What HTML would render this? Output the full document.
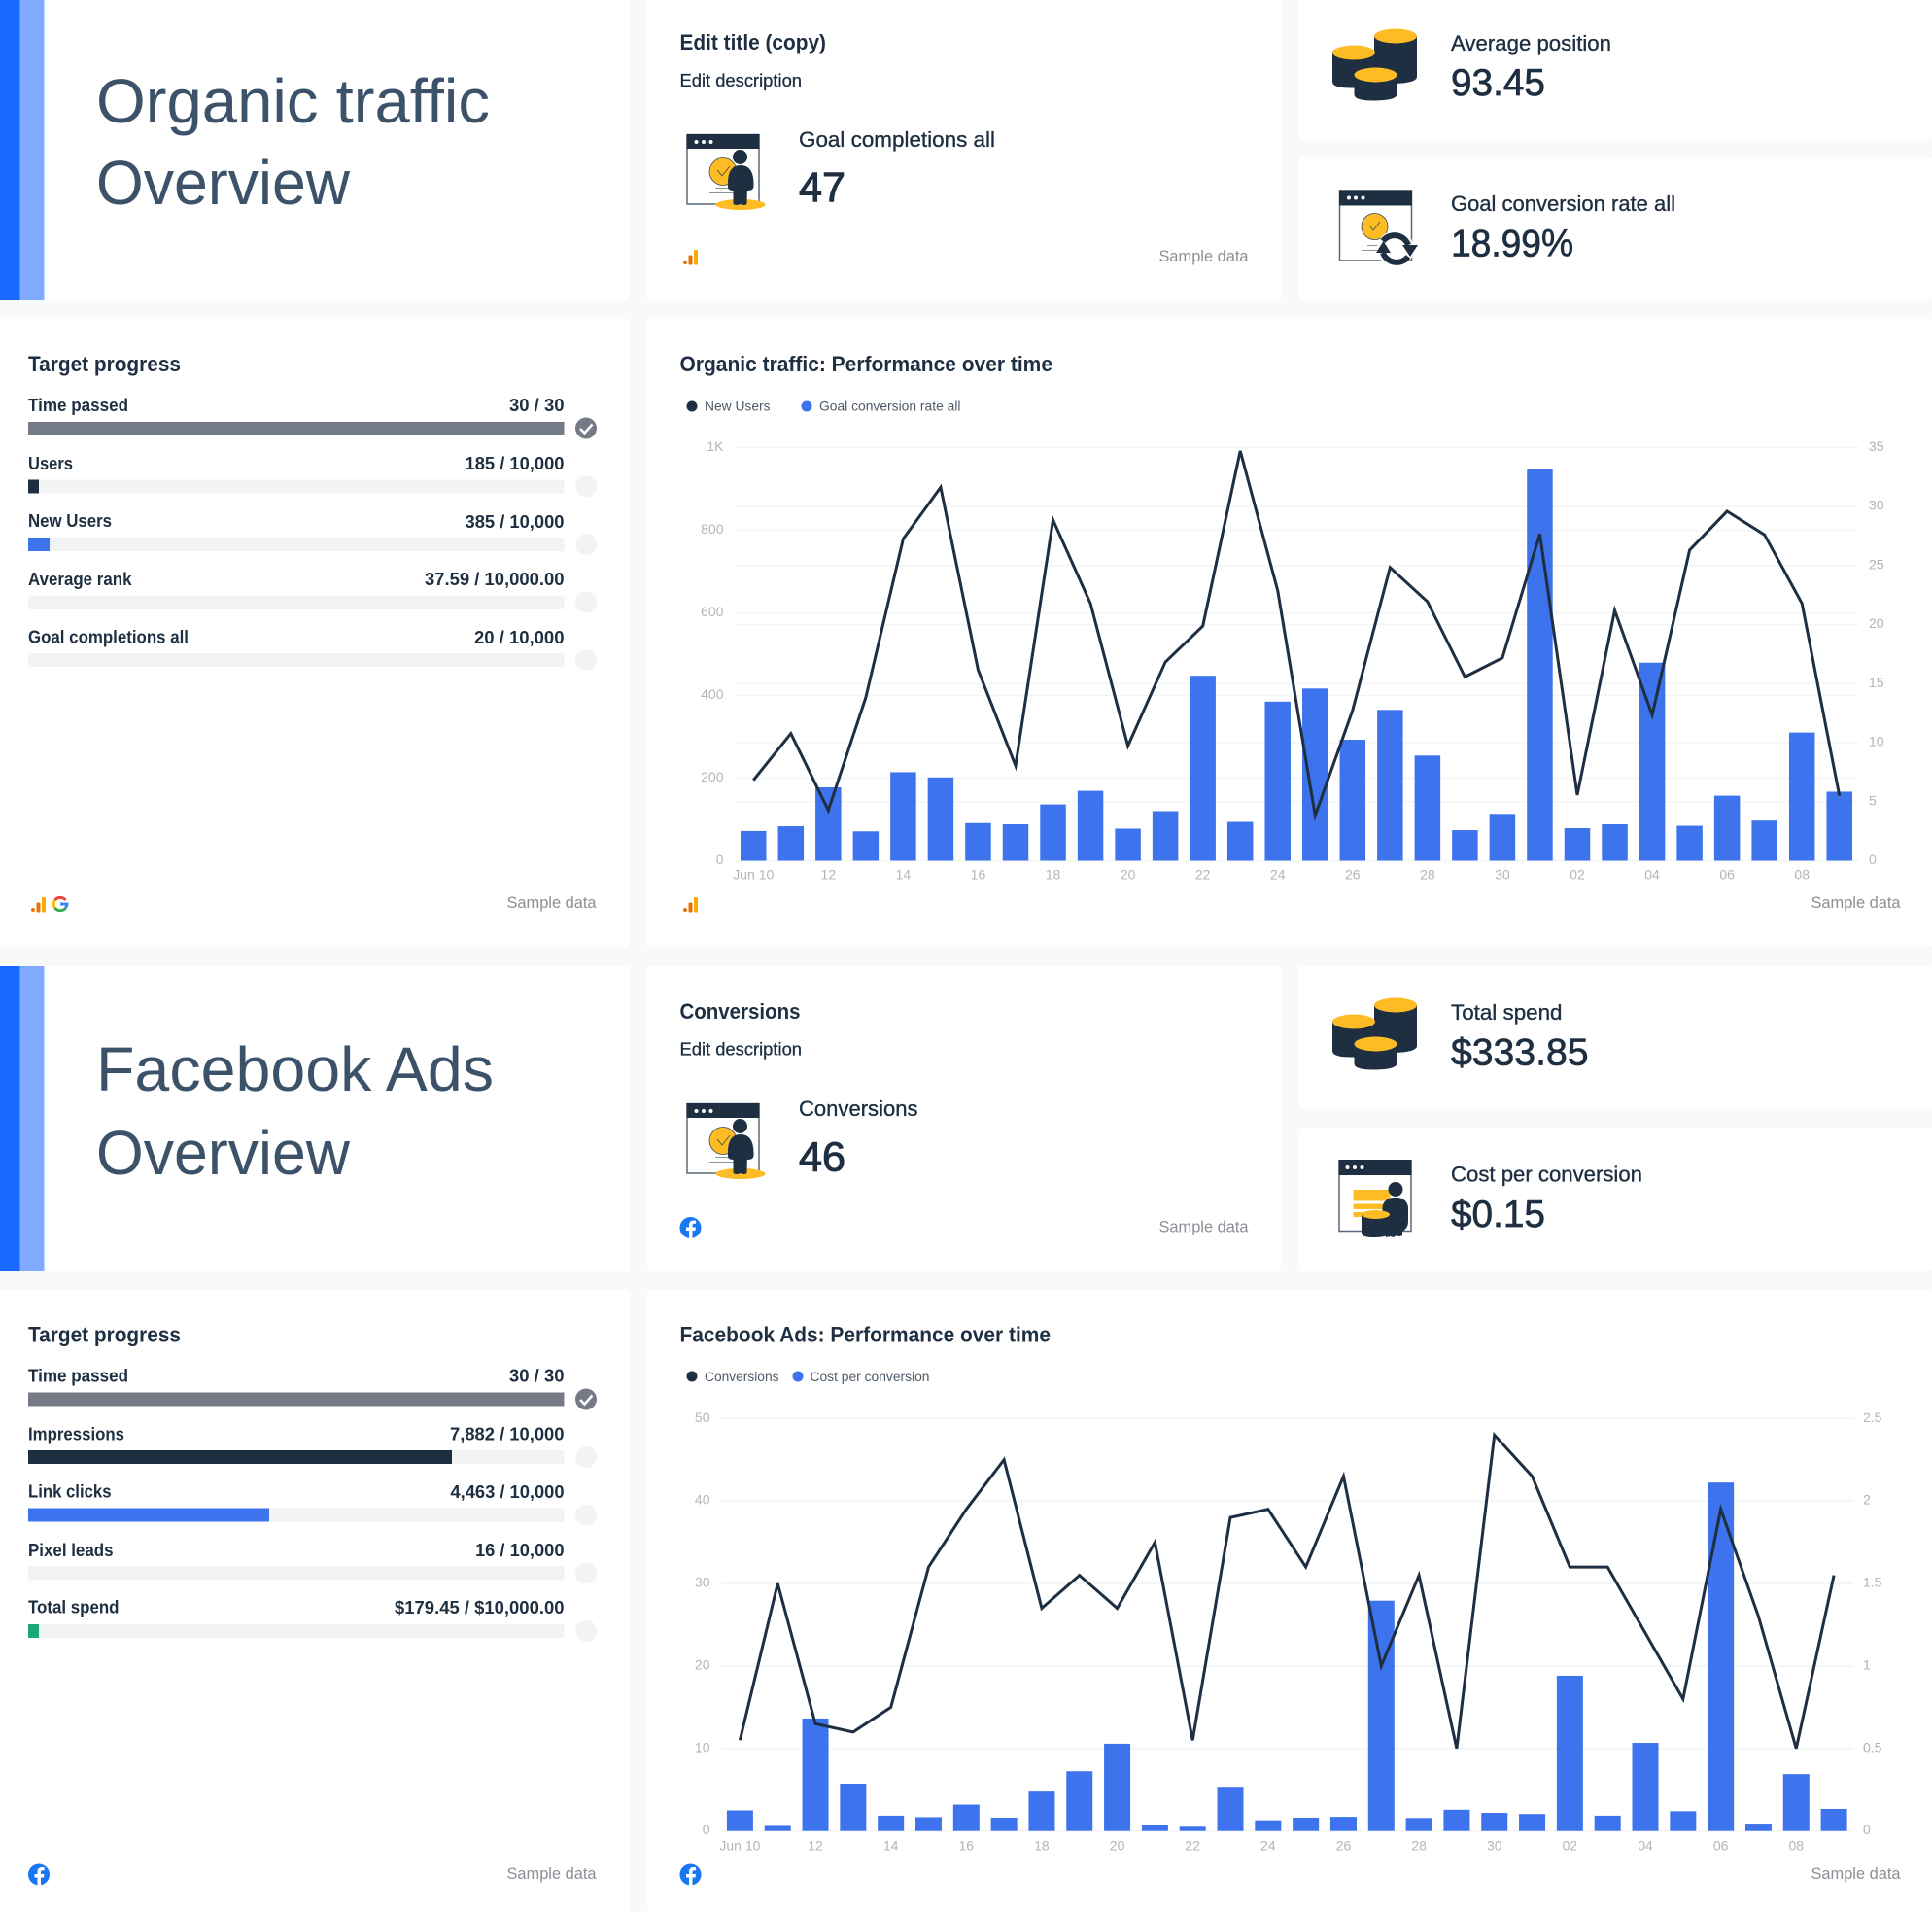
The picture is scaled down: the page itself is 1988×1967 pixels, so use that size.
<!DOCTYPE html>
<html lang="en">
<head>
<meta charset="utf-8">
<title>Organic traffic and Facebook Ads report</title>
<style>
html,body{margin:0;padding:0;background:#f8fafa;}
svg{display:block;}
text{font-family:"Liberation Sans",sans-serif;fill:#1e2f42;}
.hero{font-size:64px;fill:#3c5269;}
.h{font-size:22px;font-weight:700;}
.sub{font-size:18px;stroke:#1e2f42;stroke-width:.3px;}
.kl{font-size:22px;stroke:#1e2f42;stroke-width:.35px;}
.kv{font-size:39px;stroke:#1e2f42;stroke-width:.7px;}
.kv2{font-size:43px;stroke:#1e2f42;stroke-width:1px;}
.pl{font-size:18px;font-weight:700;}
.src{font-size:17px;fill:#8b8f95;}
.leg{font-size:14px;fill:#4d5a68;}
.tick{font-size:14px;fill:#b1b4b8;}
.card{fill:#fff;}
.track{fill:#f2f3f5;}
</style>
</head>
<body>
<svg xmlns="http://www.w3.org/2000/svg" width="1988" height="1967" viewBox="0 0 1988 1967">
<defs>
  <g id="ga-icon">
    <circle cx="705" cy="270" r="2" fill="#e8710a"/>
    <rect x="708.500" y="262.500" width="4" height="10" rx="1" fill="#e8710a"/>
    <rect x="714" y="257" width="4" height="15.500" rx="1" fill="#f9ab00"/>
  </g>
  <g id="fb-icon">
    <circle cx="710.500" cy="1263" r="11" fill="#1877f2"/>
    <path d="M712.500 1274.500v-8.500h3l.5-3.500h-3.500v-2c0-1 .5-1.800 1.900-1.800h1.700v-3c-.8-.1-1.600-.2-2.500-.2-2.800 0-4.600 1.700-4.600 4.700v2.300h-3v3.500h3v8.500z" fill="#fff"/>
  </g>
  <g id="coins-icon">
    <path d="M1414 37h44v42q0 6-22 7t-22-7z" fill="#1e2f42"/>
    <ellipse cx="1436" cy="37" rx="22" ry="7.500" fill="#fdbc24"/>
    <path d="M1371 54h44v30q0 6-22 6.500t-22-6.500z" fill="#1e2f42"/>
    <ellipse cx="1393" cy="54" rx="22" ry="7.500" fill="#fdbc24"/>
    <path d="M1393.500 77h44v20q0 6-22 6.500t-22-6.500z" fill="#1e2f42"/>
    <ellipse cx="1415.500" cy="77" rx="22" ry="7.500" fill="#fdbc24"/>
  </g>
  <g id="window-person-icon">
    <rect x="707" y="138.500" width="74" height="71.500" fill="#fff" stroke="#5b6879" stroke-width="1.500"/>
    <rect x="706.500" y="138" width="75" height="15" fill="#1e2f42"/>
    <circle cx="716.500" cy="146" r="2" fill="#fff"/><circle cx="724" cy="146" r="2" fill="#fff"/><circle cx="731.500" cy="146" r="2" fill="#fff"/>
    <circle cx="744" cy="176.500" r="14" fill="#fdbc24" stroke="#3a4656" stroke-width=".8"/>
    <path d="M738 175l5 6 8-10" fill="none" stroke="#5b5a40" stroke-width="1"/>
    <path d="M736 193.500h16M730 198.500h26" stroke="#8a94a1" stroke-width="1"/>
    <ellipse cx="762" cy="210.500" rx="25.500" ry="5.500" fill="#fdbc24"/>
    <circle cx="761.500" cy="161.500" r="7.500" fill="#1e2f42"/>
    <path d="M749 188q0-18 13-18t13.500 18v4q-.5 4-6 4h-15q-5.500 0-5.500-4z" fill="#1e2f42"/>
    <path d="M754.500 190h14.500l-.5 20q-3 2-6.500 0q-4 2-7.500 0z" fill="#1e2f42"/>
  </g>
</defs>

<!-- ============ ROW 1 ============ -->
<g>
  <rect class="card" x="0" y="0" width="647" height="309"/>
  <rect x="0" y="0" width="20.500" height="309" fill="#1769ff"/>
  <rect x="20.500" y="0" width="25" height="309" fill="#80aaff"/>
  <text class="hero" x="99" y="126" textLength="405" lengthAdjust="spacingAndGlyphs">Organic traffic</text>
  <text class="hero" x="99" y="210" textLength="261" lengthAdjust="spacingAndGlyphs">Overview</text>
</g>

<g>
  <rect class="card" x="666" y="-6" width="652" height="315" rx="3"/>
  <text class="h" x="699.500" y="51" textLength="150.500" lengthAdjust="spacingAndGlyphs">Edit title (copy)</text>
  <text class="sub" x="699.500" y="89" textLength="125.500" lengthAdjust="spacingAndGlyphs">Edit description</text>
  <use href="#window-person-icon"/>
  <text class="kl" x="822" y="151" textLength="202" lengthAdjust="spacingAndGlyphs">Goal completions all</text>
  <text class="kv2" x="822" y="207" textLength="48" lengthAdjust="spacingAndGlyphs">47</text>
  <use href="#ga-icon"/>
  <text class="src" x="1192.500" y="269" textLength="92" lengthAdjust="spacingAndGlyphs">Sample data</text>
</g>

<g>
  <rect class="card" x="1337" y="-6" width="651" height="150" rx="3"/>
  <use href="#coins-icon"/>
  <text class="kl" x="1493" y="52" textLength="165" lengthAdjust="spacingAndGlyphs">Average position</text>
  <text class="kv" x="1493" y="98" textLength="97" lengthAdjust="spacingAndGlyphs">93.45</text>
</g>

<g>
  <rect class="card" x="1337" y="162" width="651" height="147" rx="3"/>
  <g>
    <rect x="1378.500" y="196" width="74" height="72" fill="#fff" stroke="#5b6879" stroke-width="1.500"/>
    <rect x="1378" y="195.500" width="75" height="16" fill="#1e2f42"/>
    <circle cx="1388" cy="203.500" r="2" fill="#fff"/><circle cx="1395" cy="203.500" r="2" fill="#fff"/><circle cx="1402.500" cy="203.500" r="2" fill="#fff"/>
    <circle cx="1414.500" cy="233" r="13.500" fill="#fdbc24" stroke="#3a4656" stroke-width=".8"/>
    <path d="M1409 232l4 5 7-9" fill="none" stroke="#5b5a40" stroke-width="1"/>
    <path d="M1407 252.500h16M1401 257.500h26" stroke="#8a94a1" stroke-width="1"/>
    <circle cx="1436" cy="256" r="19" fill="#fff" opacity=".9"/>
    <path d="M1423 248a15 15 0 0 1 26 4" fill="none" stroke="#1e2f42" stroke-width="6"/>
    <path d="M1449 264a15 15 0 0 1-26-4" fill="none" stroke="#1e2f42" stroke-width="6"/>
    <path d="M1443 252h16l-8 12z" fill="#1e2f42"/>
    <path d="M1416 260h15l-7.500-12z" fill="#1e2f42"/>
  </g>
  <text class="kl" x="1493" y="217" textLength="231" lengthAdjust="spacingAndGlyphs">Goal conversion rate all</text>
  <text class="kv" x="1493" y="263.500" textLength="126" lengthAdjust="spacingAndGlyphs">18.99%</text>
</g>

<!-- ============ ROW 2 ============ -->
<g>
  <rect class="card" x="0" y="328" width="647" height="646"/>
  <text class="h" x="29" y="382" textLength="157" lengthAdjust="spacingAndGlyphs">Target progress</text>

  <text class="pl" x="29" y="423" textLength="103" lengthAdjust="spacingAndGlyphs">Time passed</text>
  <text class="pl" x="524" y="423" textLength="56.500" lengthAdjust="spacingAndGlyphs">30 / 30</text>
  <rect x="29" y="434" width="551.500" height="14" fill="#747b86"/>
  <g><circle cx="603" cy="440.500" r="11" fill="#747b86"/><path d="M597 441l4.500 4.500 8-9" fill="none" stroke="#fff" stroke-width="2.500"/></g>

  <text class="pl" x="29" y="483" textLength="46" lengthAdjust="spacingAndGlyphs">Users</text>
  <text class="pl" x="478.500" y="483" textLength="102" lengthAdjust="spacingAndGlyphs">185 / 10,000</text>
  <rect class="track" x="29" y="493.500" width="551.500" height="14"/>
  <rect x="29" y="493.500" width="11" height="14" fill="#1e2f42"/>
  <circle cx="603" cy="500.500" r="11" fill="#f2f3f5"/>

  <text class="pl" x="29" y="542" textLength="86" lengthAdjust="spacingAndGlyphs">New Users</text>
  <text class="pl" x="478.500" y="543" textLength="102" lengthAdjust="spacingAndGlyphs">385 / 10,000</text>
  <rect class="track" x="29" y="553" width="551.500" height="14"/>
  <rect x="29" y="553" width="22" height="14" fill="#3d73ec"/>
  <circle cx="603" cy="560" r="11" fill="#f2f3f5"/>

  <text class="pl" x="29" y="602" textLength="106.500" lengthAdjust="spacingAndGlyphs">Average rank</text>
  <text class="pl" x="437" y="602" textLength="143.500" lengthAdjust="spacingAndGlyphs">37.59 / 10,000.00</text>
  <rect class="track" x="29" y="613" width="551.500" height="14"/>
  <circle cx="603" cy="619.500" r="11" fill="#f2f3f5"/>

  <text class="pl" x="29" y="661.500" textLength="165" lengthAdjust="spacingAndGlyphs">Goal completions all</text>
  <text class="pl" x="488" y="662" textLength="92.500" lengthAdjust="spacingAndGlyphs">20 / 10,000</text>
  <rect class="track" x="29" y="672" width="551.500" height="14"/>
  <circle cx="603" cy="679" r="11" fill="#f2f3f5"/>

  <use href="#ga-icon" transform="translate(-671 666)"/>
  <g fill="none" stroke-width="3">
    <path d="M67.500 926a7 7 0 0 0-11 0" stroke="#ea4335"/>
    <path d="M56.500 926a7 7 0 0 0 0 8" stroke="#fbbc05"/>
    <path d="M56.500 934a7 7 0 0 0 11 0" stroke="#34a853"/>
    <path d="M67.500 934a7 7 0 0 0 1.500-4h-7" stroke="#4285f4"/>
  </g>
  <text class="src" x="521.500" y="934" textLength="92" lengthAdjust="spacingAndGlyphs">Sample data</text>
</g>

<g>
  <rect class="card" x="666" y="328" width="1322" height="646" rx="3"/>
  <text class="h" x="699.500" y="382" textLength="383.500" lengthAdjust="spacingAndGlyphs">Organic traffic: Performance over time</text>
  <g>
    <circle cx="712" cy="418" r="5.500" fill="#1e2f42"/>
    <text class="leg" x="725" y="422.500" textLength="67.500" lengthAdjust="spacingAndGlyphs">New Users</text>
    <circle cx="830" cy="418" r="5.500" fill="#3d73ec"/>
    <text class="leg" x="843" y="422.500" textLength="145.500" lengthAdjust="spacingAndGlyphs">Goal conversion rate all</text>
  </g>
  <g id="organic-chart"></g>
  <use href="#ga-icon" transform="translate(0 666)"/>
  <text class="src" x="1863.500" y="934" textLength="92" lengthAdjust="spacingAndGlyphs">Sample data</text>
</g>

<!-- ============ ROW 3 ============ -->
<g>
  <rect class="card" x="0" y="994" width="647" height="314"/>
  <rect x="0" y="994" width="20.500" height="314" fill="#1769ff"/>
  <rect x="20.500" y="994" width="25" height="314" fill="#80aaff"/>
  <text class="hero" x="99" y="1122" textLength="409" lengthAdjust="spacingAndGlyphs">Facebook Ads</text>
  <text class="hero" x="99" y="1208" textLength="261" lengthAdjust="spacingAndGlyphs">Overview</text>
</g>

<g>
  <rect class="card" x="666" y="994" width="652" height="314" rx="3"/>
  <text class="h" x="699.500" y="1048" textLength="124" lengthAdjust="spacingAndGlyphs">Conversions</text>
  <text class="sub" x="699.500" y="1085.500" textLength="125.500" lengthAdjust="spacingAndGlyphs">Edit description</text>
  <use href="#window-person-icon" transform="translate(0 997)"/>
  <text class="kl" x="822" y="1148" textLength="122.500" lengthAdjust="spacingAndGlyphs">Conversions</text>
  <text class="kv2" x="822" y="1204.500" textLength="48" lengthAdjust="spacingAndGlyphs">46</text>
  <use href="#fb-icon"/>
  <text class="src" x="1192.500" y="1267.500" textLength="92" lengthAdjust="spacingAndGlyphs">Sample data</text>
</g>

<g>
  <rect class="card" x="1337" y="994" width="651" height="147" rx="3"/>
  <use href="#coins-icon" transform="translate(0 997)"/>
  <text class="kl" x="1493" y="1049" textLength="114.500" lengthAdjust="spacingAndGlyphs">Total spend</text>
  <text class="kv" x="1493" y="1095.500" textLength="141.500" lengthAdjust="spacingAndGlyphs">$333.85</text>
</g>

<g>
  <rect class="card" x="1337" y="1160" width="651" height="148" rx="3"/>
  <g>
    <rect x="1378" y="1194" width="74" height="72.500" fill="#fff" stroke="#5b6879" stroke-width="1.500"/>
    <rect x="1377.500" y="1193" width="75" height="16" fill="#1e2f42"/>
    <circle cx="1386.500" cy="1201" r="2" fill="#fff"/><circle cx="1394" cy="1201" r="2" fill="#fff"/><circle cx="1401.500" cy="1201" r="2" fill="#fff"/>
    <rect x="1392.500" y="1224" width="38" height="11.500" fill="#fdbc24"/>
    <rect x="1392.500" y="1238.500" width="38" height="5.500" fill="#fdbc24"/>
    <rect x="1392.500" y="1247" width="30" height="5" fill="#fdbc24"/>
    <circle cx="1436" cy="1223.500" r="7.500" fill="#1e2f42"/>
    <rect x="1422.500" y="1232" width="26.500" height="36" rx="11" fill="#1e2f42"/>
    <path d="M1426 1255h17v16q-3 2-6 0q-3 3-6 1l-5 1z" fill="#1e2f42"/>
    <path d="M1401 1249.500h28.500v19q0 4-14 4.500t-14.500-4.500z" fill="#1e2f42"/>
    <ellipse cx="1415.500" cy="1249.500" rx="14.500" ry="4.500" fill="#fdbc24"/>
  </g>
  <text class="kl" x="1493" y="1215.500" textLength="197" lengthAdjust="spacingAndGlyphs">Cost per conversion</text>
  <text class="kv" x="1493" y="1262" textLength="97" lengthAdjust="spacingAndGlyphs">$0.15</text>
</g>

<!-- ============ ROW 4 ============ -->
<g>
  <rect class="card" x="0" y="1327" width="647" height="640"/>
  <text class="h" x="29" y="1380.500" textLength="157" lengthAdjust="spacingAndGlyphs">Target progress</text>

  <text class="pl" x="29" y="1421.500" textLength="103" lengthAdjust="spacingAndGlyphs">Time passed</text>
  <text class="pl" x="524" y="1421.500" textLength="56.500" lengthAdjust="spacingAndGlyphs">30 / 30</text>
  <rect x="29" y="1432.500" width="551.500" height="14" fill="#747b86"/>
  <g><circle cx="603" cy="1439.500" r="11" fill="#747b86"/><path d="M597 1440l4.500 4.500 8-9" fill="none" stroke="#fff" stroke-width="2.500"/></g>

  <text class="pl" x="29" y="1481.500" textLength="99" lengthAdjust="spacingAndGlyphs">Impressions</text>
  <text class="pl" x="463" y="1481.500" textLength="117.500" lengthAdjust="spacingAndGlyphs">7,882 / 10,000</text>
  <rect class="track" x="29" y="1492" width="551.500" height="14"/>
  <rect x="29" y="1492" width="436" height="14" fill="#1e2f42"/>
  <circle cx="603" cy="1499" r="11" fill="#f2f3f5"/>

  <text class="pl" x="29" y="1540.500" textLength="85.500" lengthAdjust="spacingAndGlyphs">Link clicks</text>
  <text class="pl" x="463.500" y="1541" textLength="117" lengthAdjust="spacingAndGlyphs">4,463 / 10,000</text>
  <rect class="track" x="29" y="1551.500" width="551.500" height="14"/>
  <rect x="29" y="1551.500" width="248" height="14" fill="#3d73ec"/>
  <circle cx="603" cy="1558.500" r="11" fill="#f2f3f5"/>

  <text class="pl" x="29" y="1601" textLength="87.500" lengthAdjust="spacingAndGlyphs">Pixel leads</text>
  <text class="pl" x="489" y="1601" textLength="91.500" lengthAdjust="spacingAndGlyphs">16 / 10,000</text>
  <rect class="track" x="29" y="1611.500" width="551.500" height="14"/>
  <circle cx="603" cy="1618.500" r="11" fill="#f2f3f5"/>

  <text class="pl" x="29" y="1659.500" textLength="93.500" lengthAdjust="spacingAndGlyphs">Total spend</text>
  <text class="pl" x="406" y="1660" textLength="174.500" lengthAdjust="spacingAndGlyphs">$179.45 / $10,000.00</text>
  <rect class="track" x="29" y="1671" width="551.500" height="14"/>
  <rect x="29" y="1671" width="11" height="14" fill="#1aa774"/>
  <circle cx="603" cy="1678" r="11" fill="#f2f3f5"/>

  <use href="#fb-icon" transform="translate(-670.500 665.500)"/>
  <text class="src" x="521.500" y="1933" textLength="92" lengthAdjust="spacingAndGlyphs">Sample data</text>
</g>

<g>
  <rect class="card" x="666" y="1327" width="1322" height="640" rx="3"/>
  <text class="h" x="699.500" y="1380.500" textLength="381.500" lengthAdjust="spacingAndGlyphs">Facebook Ads: Performance over time</text>
  <g>
    <circle cx="712" cy="1416" r="5.500" fill="#1e2f42"/>
    <text class="leg" x="725" y="1421" textLength="76.500" lengthAdjust="spacingAndGlyphs">Conversions</text>
    <circle cx="821" cy="1416" r="5.500" fill="#3d73ec"/>
    <text class="leg" x="833.500" y="1421" textLength="123" lengthAdjust="spacingAndGlyphs">Cost per conversion</text>
  </g>
  <g id="facebook-chart"></g>
  <use href="#fb-icon" transform="translate(0 665.500)"/>
  <text class="src" x="1863.500" y="1933" textLength="92" lengthAdjust="spacingAndGlyphs">Sample data</text>
</g>
</svg>

<script>
// ---- Organic traffic chart data ----
var organicDates = ['Jun 10','11','12','13','14','15','16','17','18','19','20','21','22','23','24','25','26','27','28','29','30','01','02','03','04','05','06','07','08','09'];
var organicLine = [195,308,122,395,779,904,462,230,825,623,278,481,568,992,654,109,364,710,627,445,491,791,159,606,353,752,846,789,623,157];
var organicBars = [2.52,2.92,6.22,2.49,7.5,7.06,3.19,3.09,4.77,5.92,2.72,4.2,15.67,3.29,13.48,14.59,10.25,12.78,8.91,2.59,3.97,33.15,2.76,3.09,16.78,2.96,5.51,3.4,10.86,5.85];
var organicLeftTicks = [0,200,400,600,800,1000];
var organicLeftTickLabels = ['0','200','400','600','800','1K'];
var organicRightTicks = [0,5,10,15,20,25,30,35];
var organicRightTickLabels = ['0','5','10','15','20','25','30','35'];

// ---- Facebook Ads chart data ----
var facebookDates = ['Jun 10','11','12','13','14','15','16','17','18','19','20','21','22','23','24','25','26','27','28','29','30','01','02','03','04','05','06','07','08','09'];
var facebookLine = [11,30,13,12,15,32,39,45,27,31,27,35,11,38,39,32,43,20,31,10,48,43,32,32,24,16,39,26,10,31];
var facebookBars = [0.125,0.031,0.682,0.287,0.093,0.084,0.16,0.081,0.239,0.362,0.529,0.034,0.026,0.268,0.065,0.081,0.086,1.396,0.079,0.129,0.11,0.103,0.941,0.093,0.534,0.12,2.112,0.045,0.345,0.134];
var facebookLeftTicks = [0,10,20,30,40,50];
var facebookLeftTickLabels = ['0','10','20','30','40','50'];
var facebookRightTicks = [0,0.5,1,1.5,2,2.5];
var facebookRightTickLabels = ['0','0.5','1','1.5','2','2.5'];

var SVG_NS = 'http://www.w3.org/2000/svg';

function drawChart(root, dates, lineValues, barValues, leftTicks, leftLabels, rightTicks, rightLabels, box) {
  var band = (box.right - box.left) / dates.length;
  var leftMax = leftTicks[leftTicks.length - 1];
  var rightMax = rightTicks[rightTicks.length - 1];
  function xCenter(i) { return box.left + (i + 0.5) * band; }
  function yLeft(v) { return box.bottom - (v / leftMax) * (box.bottom - box.top); }
  function yRight(v) { return box.bottom - (v / rightMax) * (box.bottom - box.top); }

  function drawGrid(y) {
    var g = document.createElementNS(SVG_NS, 'line');
    g.setAttribute('x1', box.left);
    g.setAttribute('x2', box.gridRight);
    g.setAttribute('y1', y);
    g.setAttribute('y2', y);
    g.setAttribute('stroke', '#f4f5f6');
    g.setAttribute('stroke-width', '1.5');
    
    
    root.appendChild(g);
  }
  function drawTick(str, x, y, anchor, name) {
    var t = document.createElementNS(SVG_NS, 'text');
    t.setAttribute('class', 'tick');
    t.setAttribute('x', x);
    t.setAttribute('y', y);
    t.setAttribute('text-anchor', anchor);
    
    
    t.textContent = str;
    root.appendChild(t);
  }

  leftTicks.forEach(function (v, i) {
    drawGrid(yLeft(v));
    drawTick(leftLabels[i], box.leftLabelX, yLeft(v) + 3.5, 'end', 'left-axis-tick');
  });
  rightTicks.forEach(function (v, i) {
    drawGrid(yRight(v));
    drawTick(rightLabels[i], box.rightLabelX, yRight(v) + 3.5, 'start', 'right-axis-tick');
  });

  barValues.forEach(function (v, i) {
    var r = document.createElementNS(SVG_NS, 'rect');
    r.setAttribute('x', xCenter(i) - box.barWidth / 2);
    r.setAttribute('y', yRight(v));
    r.setAttribute('width', box.barWidth);
    r.setAttribute('height', box.bottom - yRight(v));
    r.setAttribute('fill', '#3d73ec');
    
    
    root.appendChild(r);
  });

  var pts = lineValues.map(function (v, i) { return xCenter(i) + ',' + yLeft(v); }).join(' ');
  var line = document.createElementNS(SVG_NS, 'polyline');
  line.setAttribute('points', pts);
  line.setAttribute('fill', 'none');
  line.setAttribute('stroke', '#1e2f42');
  line.setAttribute('stroke-width', '3');
  
  
  root.appendChild(line);

  dates.forEach(function (d, i) {
    if (i % 2 === 0) {
      drawTick(d, xCenter(i), box.xLabelY, 'middle', 'x-axis-tick');
    }
  });
}

drawChart(document.getElementById('organic-chart'), organicDates, organicLine, organicBars,
  organicLeftTicks, organicLeftTickLabels, organicRightTicks, organicRightTickLabels,
  {left: 756, right: 1912, gridRight: 1913, top: 460.5, bottom: 885.5, barWidth: 26.5, leftLabelX: 744.5, rightLabelX: 1923, xLabelY: 904.5});

drawChart(document.getElementById('facebook-chart'), facebookDates, facebookLine, facebookBars,
  facebookLeftTicks, facebookLeftTickLabels, facebookRightTicks, facebookRightTickLabels,
  {left: 742, right: 1906.5, gridRight: 1907, top: 1459.3, bottom: 1883.7, barWidth: 27, leftLabelX: 730.5, rightLabelX: 1917, xLabelY: 1903.5});
</script>
</body>
</html>
